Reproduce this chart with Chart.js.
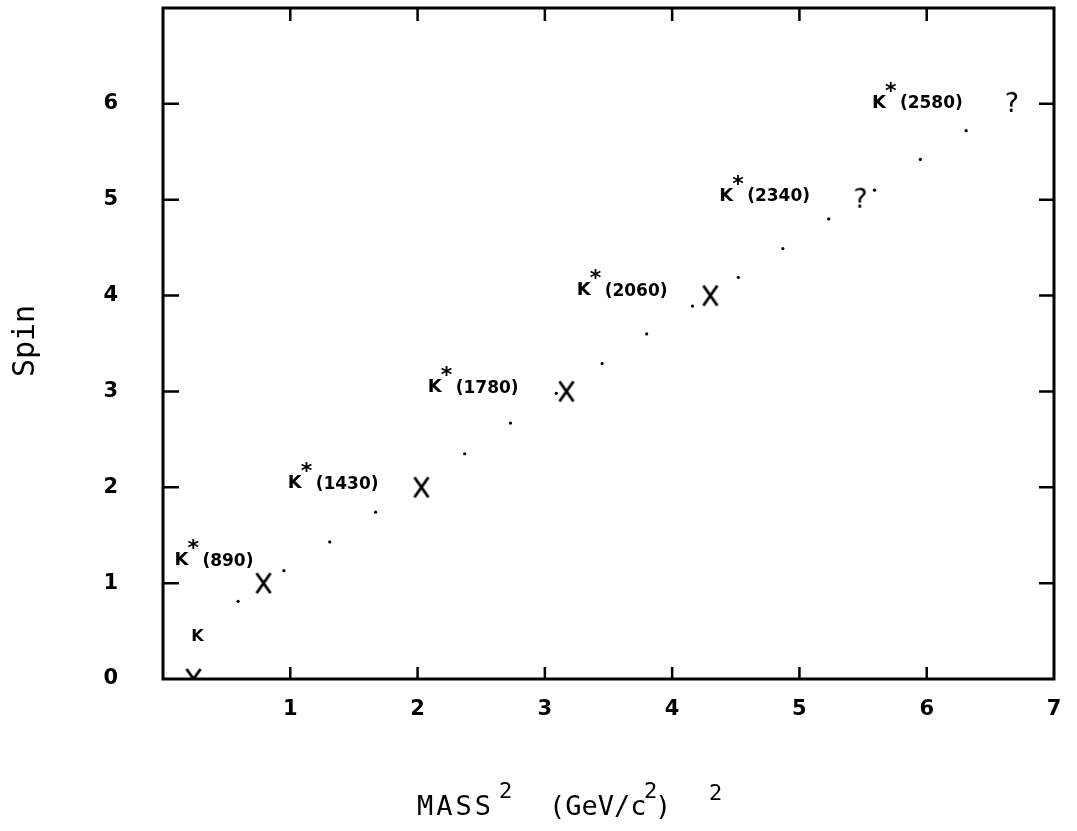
<!DOCTYPE html>
<html>
<head>
<meta charset="utf-8">
<title>K* Regge trajectory</title>
<script src="https://cdn.jsdelivr.net/npm/chart.js@4.4.1/dist/chart.umd.min.js"></script>
<style>
  html, body { margin: 0; padding: 0; background: #fff; }
  #wrap { width: 1077px; height: 831px; }
</style>
</head>
<body>
<div id="wrap"><canvas id="myChart" width="1077" height="831"></canvas></div>
<script>
// measured states (mass^2 in GeV^2, spin)
const stateMass2 = [0.24, 0.79, 2.03, 3.17, 4.30];
const stateSpin = [0, 1, 2, 3, 4];

// candidates not yet confirmed, marked with "?"
const unsureMass2 = [5.48, 6.67];
const unsureSpin = [5, 6];

// dotted trajectory line
const trajMass2 = [0.59, 0.95, 1.31, 1.67, 2.37, 2.73, 3.09, 3.45, 3.80, 4.16, 4.52, 4.87, 5.23, 5.59, 5.95, 6.31];
const trajSpin = [0.81, 1.13, 1.43, 1.74, 2.35, 2.67, 2.98, 3.29, 3.60, 3.89, 4.19, 4.49, 4.80, 5.10, 5.42, 5.72];

// particle names written next to the states
const labelText = ['(890)', '(1430)', '(1780)', '(2060)', '(2340)', '(2580)'];
const labelMass2 = [0.09, 0.98, 2.08, 3.25, 4.37, 5.57];
const labelSpin = [1.24, 2.04, 3.04, 4.05, 5.04, 6.01];
const kaonLabelMass2 = 0.27;
const kaonLabelSpin = 0.44;

const xTicks = [1, 2, 3, 4, 5, 6, 7];
const yTicks = [0, 1, 2, 3, 4, 5, 6];

// little canvases used as point styles
function makeCross() {
  const c = document.createElement('canvas');
  c.width = 18; c.height = 24;
  const g = c.getContext('2d');
  g.strokeStyle = '#000';
  g.lineWidth = 2.8;
  g.beginPath();
  g.moveTo(2, 2); g.lineTo(16, 22);
  g.moveTo(16, 2); g.lineTo(2, 22);
  g.stroke();
  return c;
}

function makeQuestion() {
  const c = document.createElement('canvas');
  c.width = 20; c.height = 28;
  const g = c.getContext('2d');
  g.fillStyle = '#000';
  g.font = '27px "DejaVu Sans"';
  g.textAlign = 'center';
  g.textBaseline = 'middle';
  g.fillText('?', 10, 15);
  return c;
}

// box with inward ticks, state names and axis titles
const framePlugin = {
  id: 'frame',
  afterDatasetsDraw(chart) {
    const ctx = chart.ctx;
    const { left, right, top, bottom } = chart.chartArea;
    const xs = chart.scales.x, ys = chart.scales.y;

    ctx.save();
    ctx.strokeStyle = '#000';
    ctx.lineWidth = 3;
    ctx.strokeRect(left, top, right - left, bottom - top);

    ctx.lineWidth = 2.5;
    ctx.beginPath();
    for (let v = 1; v <= 6; v++) {
      const px = xs.getPixelForValue(v);
      ctx.moveTo(px, bottom); ctx.lineTo(px, bottom - 12);
      ctx.moveTo(px, top); ctx.lineTo(px, top + 13);
      const py = ys.getPixelForValue(v);
      ctx.moveTo(left, py); ctx.lineTo(left + 16, py);
      ctx.moveTo(right, py); ctx.lineTo(right - 15, py);
    }
    ctx.stroke();

    // K* labels
    ctx.fillStyle = '#000';
    ctx.textBaseline = 'middle';
    ctx.textAlign = 'left';
    labelText.forEach((t, i) => {
      const px = xs.getPixelForValue(labelMass2[i]);
      const py = ys.getPixelForValue(labelSpin[i]);
      ctx.font = 'bold 18px "DejaVu Sans"';
      ctx.fillText('K', px, py);
      const kw = ctx.measureText('K').width;
      ctx.font = 'bold 22px "DejaVu Sans"';
      ctx.fillText('*', px + kw - 1, py - 11);
      ctx.font = 'bold 17px "DejaVu Sans"';
      ctx.fillText(t, px + kw + 14, py + 1);
    });
    ctx.font = 'bold 16px "DejaVu Sans"';
    ctx.textAlign = 'center';
    ctx.fillText('K', xs.getPixelForValue(kaonLabelMass2), ys.getPixelForValue(kaonLabelSpin));

    // y title
    ctx.save();
    ctx.translate(26, 341);
    ctx.rotate(-Math.PI / 2);
    ctx.font = '30px "DejaVu Sans Mono"';
    ctx.textAlign = 'center';
    ctx.textBaseline = 'middle';
    ctx.fillText('Spin', 0, 0);
    ctx.restore();

    // x title: MASS^2  (GeV/c^2)^2
    ctx.textAlign = 'left';
    ctx.textBaseline = 'alphabetic';
    const base = 815;
    ctx.font = '27px "DejaVu Sans Mono"';
    ctx.letterSpacing = '3px';
    ctx.fillText('MASS', 417, base);
    ctx.letterSpacing = '0px';
    ctx.font = '22px "DejaVu Sans Mono"';
    ctx.fillText('2', 499, base - 17);
    ctx.font = '27px "DejaVu Sans Mono"';
    ctx.fillText('(GeV/c', 549, base);
    ctx.font = '22px "DejaVu Sans Mono"';
    ctx.fillText('2', 644, base - 17);
    ctx.font = '27px "DejaVu Sans Mono"';
    ctx.fillText(')', 655, base);
    ctx.font = '22px "DejaVu Sans Mono"';
    ctx.fillText('2', 709, base - 15);
    ctx.restore();
  }
};

const ctx = document.getElementById('myChart');
new Chart(ctx, {
  type: 'scatter',
  data: {
    datasets: [
      {
        label: 'trajectory',
        data: trajMass2.map((m, i) => ({ x: m, y: trajSpin[i] })),
        pointRadius: 1.6,
        pointBackgroundColor: '#000',
        pointBorderWidth: 0
      },
      {
        label: 'states',
        data: stateMass2.map((m, i) => ({ x: m, y: stateSpin[i] })),
        pointStyle: makeCross(),
        pointRadius: 10
      },
      {
        label: 'candidates',
        data: unsureMass2.map((m, i) => ({ x: m, y: unsureSpin[i] })),
        pointStyle: makeQuestion(),
        pointRadius: 10
      }
    ]
  },
  options: {
    responsive: false,
    animation: false,
    events: [],
    layout: { autoPadding: false, padding: { top: 8, right: 23, left: 0, bottom: 0 } },
    plugins: {
      legend: { display: false },
      title: { display: false },
      tooltip: { enabled: false }
    },
    scales: {
      x: {
        type: 'linear',
        min: 0,
        max: 7,
        afterFit(scale) {
          scale.height = 152;
          scale.paddingLeft = 0;
          scale.paddingRight = 0;
        },
        afterBuildTicks(scale) { scale.ticks = [0].concat(xTicks).map(v => ({ value: v })); },
        grid: { display: false, drawTicks: false },
        border: { display: false },
        ticks: {
          padding: 18,
          color: '#000',
          font: { family: 'DejaVu Sans', size: 21, weight: 'bold' },
          callback: v => (xTicks.includes(v) ? String(v) : '')
        }
      },
      y: {
        type: 'linear',
        min: 0,
        max: 7,
        afterFit(scale) {
          scale.width = 163;
          scale.paddingTop = 0;
          scale.paddingBottom = 0;
        },
        afterBuildTicks(scale) { scale.ticks = yTicks.concat([7]).map(v => ({ value: v })); },
        grid: { display: false, drawTicks: false },
        border: { display: false },
        ticks: {
          padding: 45,
          color: '#000',
          font: { family: 'DejaVu Sans', size: 21, weight: 'bold' },
          callback: v => (yTicks.includes(v) ? String(v) : '')
        }
      }
    }
  },
  plugins: [framePlugin]
});
</script>
</body>
</html>
